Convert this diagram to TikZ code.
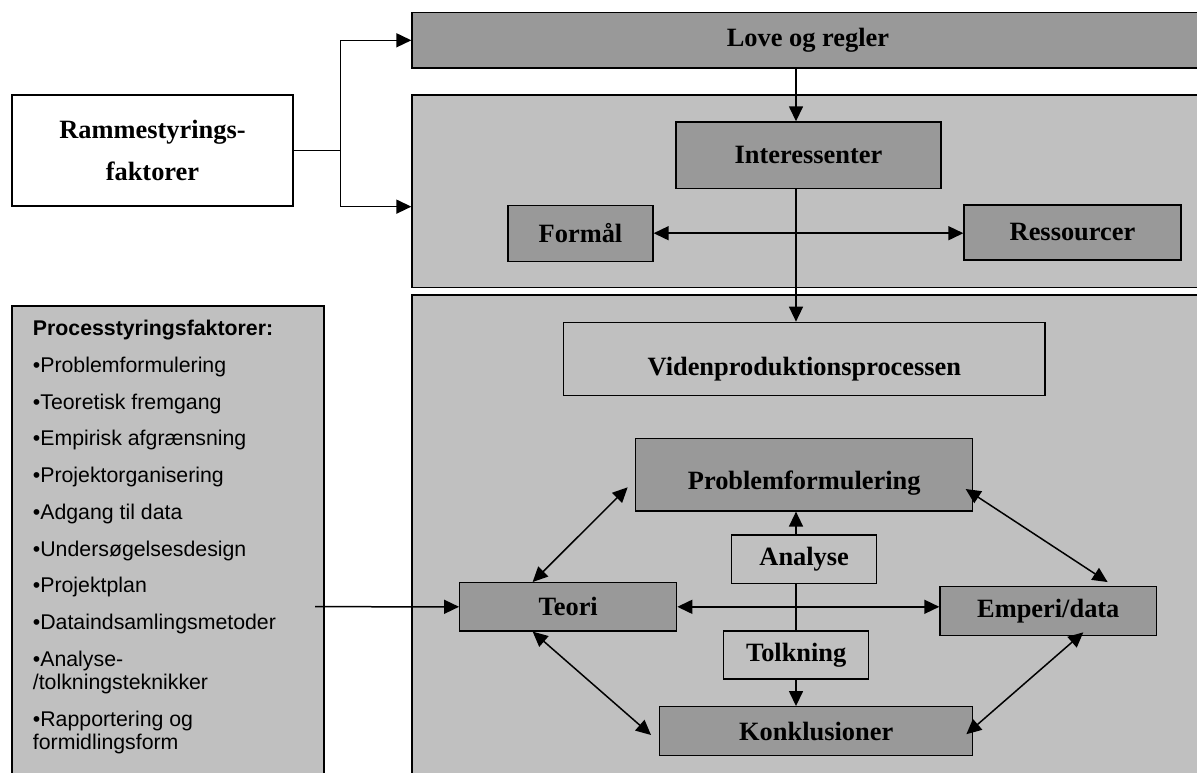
\documentclass[tikz,border=0pt]{standalone}
\usepackage{fontspec}
\setmainfont{Liberation Serif}
\newfontfamily\arialfont{Liberation Sans}
\usepackage{tikz}
\usetikzlibrary{positioning,arrows.meta}

\definecolor{boxgray}{RGB}{153,153,153}
\definecolor{panelgray}{RGB}{192,192,192}

\tikzset{
	darkbox/.style={draw, rectangle, fill=boxgray, line width=1.3pt, inner sep=0pt,
		font=\fontsize{26.4}{30}\selectfont\bfseries},
	lightbox/.style={draw, rectangle, fill=panelgray, line width=1.3pt, inner sep=0pt,
		font=\fontsize{26.4}{30}\selectfont\bfseries},
	flow/.style={-{Triangle[length=15pt,width=14pt]}, line width=1.5pt},
	biflow/.style={{Triangle[length=15pt,width=14pt]}-{Triangle[length=15pt,width=14pt]}, line width=1.5pt}
}

\begin{document}
\begin{tikzpicture}[x=1pt, y=-1pt]

	\clip (0,0) rectangle (1197,772);
	\fill[white] (0,0) rectangle (1197,772);

	% panels
	\node[lightbox,
	minimum width=792pt,
	minimum height=192.5pt] (PANEL1) at (808,191.2) {};

	\node[lightbox,
	minimum width=792pt,
	minimum height=505pt] (PANEL2) at (808,547.5) {};

	\node[lightbox,
	minimum width=312pt,
	minimum height=494pt] (PROC) at (168,553) {};

	% ramme
	\node[draw,
	rectangle,
	fill=white,
	line width=1.3pt,
	align=center,
	font=\fontsize{26.4}{42}\selectfont\bfseries,
	minimum width=281pt,
	minimum height=111pt] (RAMME) at (152.5,150.5) {Rammestyrings-\\faktorer};

	\node[darkbox,
	minimum width=792pt,
	minimum height=55.5pt] (LOVE) at (808,40.3) {Love og regler};

	\node[darkbox,
	minimum width=265pt,
	minimum height=66.5pt] (INT) at (808.5,155.2) {Interessenter};

	\node[darkbox,
	minimum width=145pt,
	minimum height=56pt] (FORMAAL) at (580.5,233.2) {Formål};

	\node[darkbox,
	minimum width=217pt,
	minimum height=55pt] (RES) at (1072.5,232.5) {Ressourcer};

	% processtyring
	\node[anchor=north west,
	inner sep=0pt,
	align=left,
	font=\arialfont\fontsize{21.3}{23.3}\selectfont] (PROCTXT) at (32.7,320.2)
	{\textbf{Processtyringsfaktorer:}\\[13.4pt]
	•Problemformulering\\[13.4pt]
	•Teoretisk fremgang\\[13.4pt]
	•Empirisk afgrænsning\\[13.4pt]
	•Projektorganisering\\[13.4pt]
	•Adgang til data\\[13.4pt]
	•Undersøgelsesdesign\\[13.4pt]
	•Projektplan\\[13.4pt]
	•Dataindsamlingsmetoder\\[13.4pt]
	•Analyse-\\/tolkningsteknikker\\[13.4pt]
	•Rapportering og\\formidlingsform};

	% videnproduktion
	\node[lightbox,
	text height=32pt,
	text depth=0pt,
	minimum width=481.3pt,
	minimum height=73.4pt] (VIDEN) at (804.4,359) {Videnproduktionsprocessen};

	\node[darkbox,
	text height=30pt,
	text depth=0pt,
	minimum width=337pt,
	minimum height=72.3pt] (PROB) at (804.2,474.8) {Problemformulering};

	\node[lightbox,
	minimum width=145pt,
	minimum height=48.3pt] (ANALYSE) at (804.2,559.2) {Analyse};

	\node[darkbox,
	minimum width=217pt,
	minimum height=48.3pt] (TEORI) at (568.2,606.8) {Teori};

	\node[darkbox,
	minimum width=216.7pt,
	minimum height=49pt] (EMP) at (1048.3,611.2) {Emperi/data};

	\node[lightbox,
	minimum width=145pt,
	minimum height=48pt] (TOLK) at (796.2,655) {Tolkning};

	\node[darkbox,
	minimum width=313pt,
	minimum height=49pt] (KONK) at (816.2,731.2) {Konklusioner};

	\coordinate (SPINE) at (796,0);
	\coordinate (PROCOUT) at (315,606.7);

	\draw[flow] (RAMME.east) -- ++(46.8,0) |- (LOVE.west);
	\draw[flow] (RAMME.east) -- ++(46.8,0) |- (RAMME.south -| PANEL1.west);
	\draw[flow] (LOVE.south -| SPINE) -- (INT.north -| SPINE);
	\draw[flow] (INT.south -| SPINE) -- (VIDEN.north -| SPINE);
	\draw[biflow] (FORMAAL.east) -- (FORMAAL.east -| RES.west);
	\draw[flow] (ANALYSE.north -| SPINE) -- (PROB.south -| SPINE);
	\draw[line width=1.5pt] (ANALYSE.south -| SPINE) -- (TOLK.north -| SPINE);
	\draw[flow] (TOLK.south -| SPINE) -- (KONK.north -| SPINE);
	\draw[biflow] (TEORI.east) -- (TEORI.east -| EMP.west);
	\draw[flow] (PROCOUT) -- (TEORI.west);
	\draw[biflow] ([xshift=73.6pt]TEORI.north west) -- ([xshift=-7.4pt,yshift=-12.5pt]PROB.west);
	\draw[biflow] ([xshift=73.6pt]TEORI.south west) -- ([xshift=-8pt,yshift=-3.8pt]KONK.west);
	\draw[biflow] ([xshift=-7.7pt,yshift=-14.2pt]PROB.east) -- ([xshift=168.3pt,yshift=4pt]EMP.north west);
	\draw[biflow] ([xshift=144pt,yshift=4pt]EMP.south west) -- ([xshift=-7pt,yshift=-3pt]KONK.east);

\end{tikzpicture}
\end{document}
